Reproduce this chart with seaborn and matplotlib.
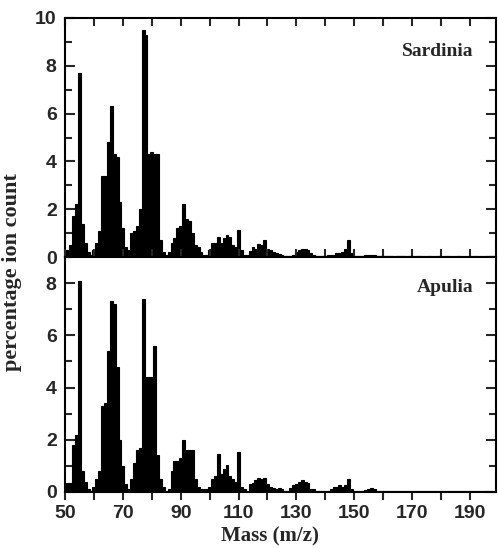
import matplotlib
matplotlib.use("Agg")
import matplotlib.pyplot as plt
import seaborn as sns
import numpy as np
import pandas as pd
from matplotlib.ticker import MultipleLocator, FixedLocator

sns.set_style("ticks")
plt.rcParams['font.family'] = ['Liberation Sans', 'DejaVu Sans']

mass = list(range(50, 199))

sardinia = [
    0.3, 0.3, 0.5, 1.7, 2.2, 7.7, 1.4, 0.6, 0.2, 0.1,
    0.3, 0.6, 1.1, 3.4, 3.4, 4.8, 6.3, 4.3, 4.2, 2.3,
    1.2, 0.4, 0.3, 1.0, 1.1, 1.3, 2.0, 9.5, 9.3, 4.3,
    4.4, 4.3, 4.3, 0.7, 0.2, 0.1, 0.2, 0.6, 0.8, 1.2,
    1.3, 2.2, 1.6, 1.5, 1.0, 0.5, 0.4, 0.2, 0.1, 0.1,
    0.3, 0.6, 0.6, 0.85, 0.6, 0.8, 0.9, 0.85, 0.5, 0.4,
    1.15, 0.3, 0.1, 0.1, 0.25, 0.4, 0.35, 0.55, 0.5, 0.7,
    0.35, 0.3, 0.2, 0.15, 0.12, 0.1, 0.05, 0.05, 0.05, 0.1,
    0.2, 0.3, 0.35, 0.35, 0.3, 0.15, 0.1, 0.05, 0.05, 0.05,
    0.05, 0.1, 0.1, 0.1, 0.15, 0.15, 0.2, 0.35, 0.7, 0.15,
    0.05, 0.05, 0.05, 0.05, 0.08, 0.1, 0.1, 0.08, 0.05, 0.03,
    0.03, 0.04, 0.03, 0.03, 0.02, 0.03, 0.04, 0.03, 0.02, 0.03,
    0.03, 0.02, 0.03, 0.03, 0.02, 0.02, 0.03, 0.02, 0.02, 0.03,
    0.02, 0.02, 0.03, 0.02, 0.02, 0.02, 0.03, 0.02, 0.02, 0.02,
    0.02, 0.02, 0.03, 0.02, 0.02, 0.02, 0.02, 0.02, 0.02,
]

apulia = [
    0.2, 0.35, 0.35, 1.8, 2.2, 8.1, 0.8, 0.4, 0.1, 0.05,
    0.2, 0.5, 0.8, 3.3, 3.4, 5.4, 7.3, 7.2, 4.8, 2.0,
    1.0, 0.3, 0.1, 0.5, 1.1, 1.6, 1.7, 7.4, 4.4, 4.4,
    4.4, 5.6, 1.4, 0.5, 0.2, 0.05, 0.1, 0.8, 1.2, 1.2,
    1.3, 2.0, 1.6, 1.6, 1.6, 0.5, 0.2, 0.1, 0.1, 0.1,
    0.2, 0.5, 0.6, 1.45, 0.7, 0.9, 1.05, 0.6, 0.5, 0.4,
    1.55, 0.2, 0.1, 0.05, 0.3, 0.35, 0.45, 0.55, 0.5, 0.55,
    0.3, 0.2, 0.15, 0.1, 0.15, 0.1, 0.05, 0.05, 0.15, 0.25,
    0.3, 0.4, 0.45, 0.4, 0.35, 0.1, 0.1, 0.05, 0.05, 0.05,
    0.05, 0.05, 0.1, 0.2, 0.2, 0.25, 0.2, 0.25, 0.5, 0.1,
    0.05, 0.05, 0.05, 0.05, 0.08, 0.1, 0.15, 0.1, 0.05, 0.04,
    0.03, 0.03, 0.04, 0.03, 0.03, 0.05, 0.03, 0.02, 0.03, 0.03,
    0.02, 0.02, 0.03, 0.02, 0.02, 0.03, 0.02, 0.02, 0.02, 0.03,
    0.02, 0.02, 0.02, 0.02, 0.03, 0.02, 0.02, 0.02, 0.02, 0.02,
    0.02, 0.02, 0.02, 0.03, 0.03, 0.02, 0.02, 0.02, 0.02,
]

panels = ["Sardinia", "Apulia"]
x_tick_labels = [50, 70, 90, 110, 130, 150, 170, 190]

df = pd.DataFrame({"mass": mass * 2,
                   "pct": sardinia + apulia,
                   "region": ["Sardinia"] * len(mass) + ["Apulia"] * len(mass)})

W, H = 498, 548
fig = plt.figure(figsize=(W / 100, H / 100), dpi=100)
L, R = 65, 496
ax_top = fig.add_axes([L / W, (H - 257) / H, (R - L) / W, (257 - 18) / H])
ax_bot = fig.add_axes([L / W, (H - 492) / H, (R - L) / W, (492 - 257) / H])

serif = ['Liberation Serif', 'DejaVu Serif']

for ax, name, ymax in [(ax_top, "Sardinia", 10), (ax_bot, "Apulia", 9)]:
    sub = df[df["region"] == name]
    sns.barplot(data=sub, x="mass", y="pct", native_scale=True, color="black",
                saturation=1, width=1.0, errorbar=None, linewidth=0.8,
                edgecolor="black", ax=ax)
    ax.set_xlim(50, 199)
    ax.set_ylim(0, ymax)
    ax.set_xlabel("")
    ax.set_ylabel("")
    for s in ax.spines.values():
        s.set_visible(True)
        s.set_linewidth(1.5)
        s.set_color("black")
    ax.yaxis.set_major_locator(MultipleLocator(2))
    ax.yaxis.set_minor_locator(MultipleLocator(1))
    ax.tick_params(axis="y", which="both", direction="in", left=True, right=True,
                   labelsize=14, width=1.5, pad=6)
    ax.tick_params(axis="y", which="major", length=7)
    ax.tick_params(axis="y", which="minor", length=5)
    for lab in ax.get_yticklabels():
        lab.set_fontweight("bold")
    ax.text(0.947, 0.86 if name == "Sardinia" else 0.872, name, transform=ax.transAxes,
            ha="right", va="center", fontsize=14, family=serif, fontweight="bold")

# top panel x ticks
ax_top.xaxis.set_major_locator(FixedLocator(list(range(50, 200, 10))))
ax_top.tick_params(axis="x", which="both", top=True, bottom=False, direction="in",
                   labelbottom=False, length=6, width=1.5)
# bottom panel x ticks
ax_bot.xaxis.set_major_locator(FixedLocator(x_tick_labels))
ax_bot.xaxis.set_minor_locator(FixedLocator(list(range(60, 200, 20))))
ax_bot.set_xticklabels([str(v) for v in x_tick_labels], fontweight="bold")
ax_bot.tick_params(axis="x", which="both", top=True, bottom=True, direction="out",
                   length=6, width=1.5, labelsize=14)
ax_bot.set_xlabel("Mass (m/z)", fontsize=15, family=serif, fontweight="bold")
ax_bot.xaxis.set_label_coords((270 - L) / (R - L), -0.148)

fig.text(12 / W, 1 - 272 / H, "percentage ion count", rotation=90, ha="center",
         va="center", fontsize=16, family=serif, fontweight="bold")

fig.savefig("out.png", dpi=100)
